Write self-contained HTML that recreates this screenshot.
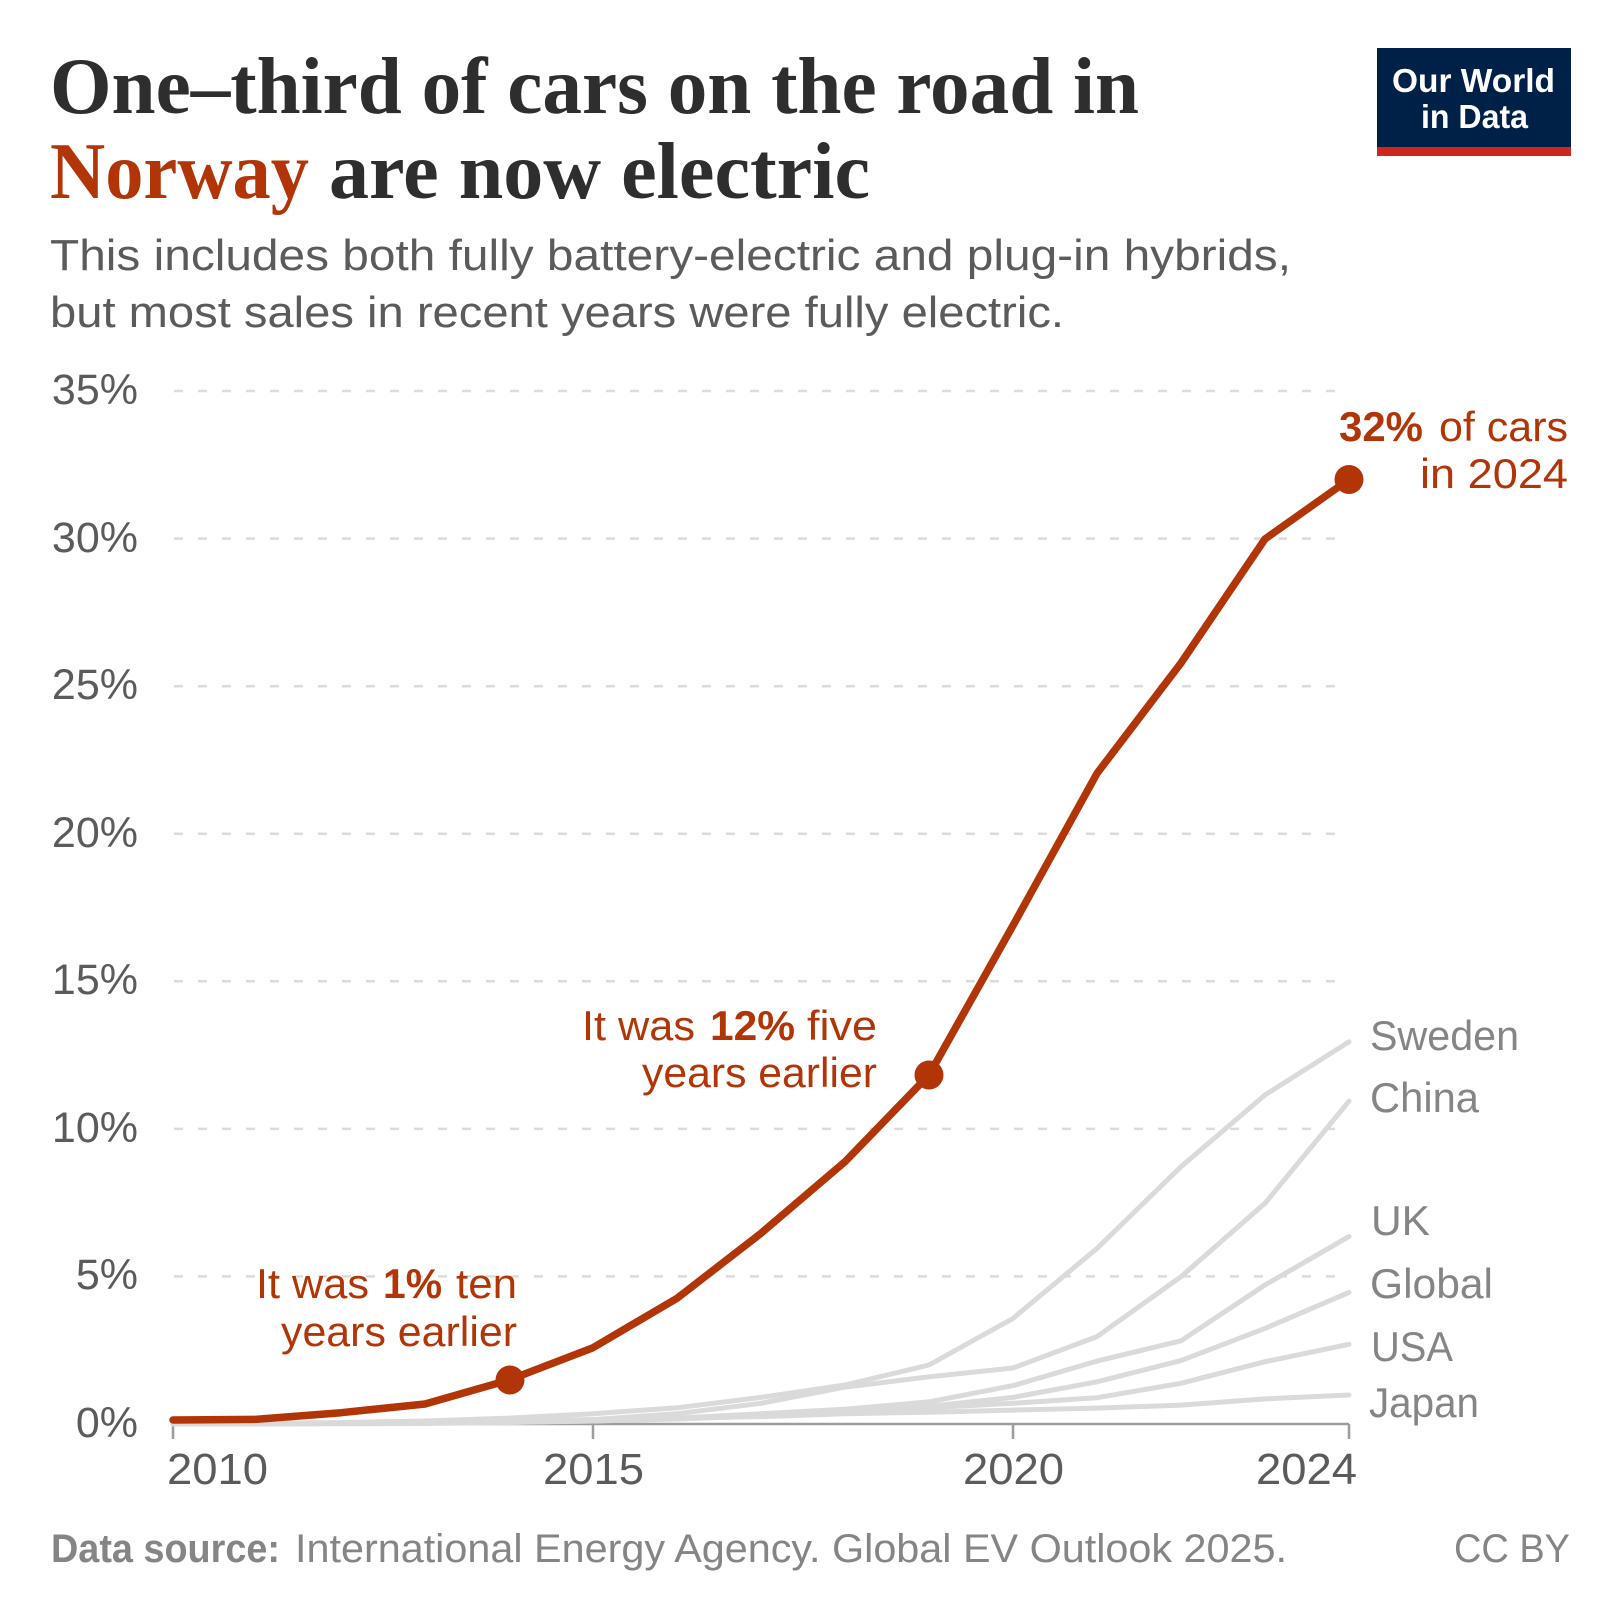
<!DOCTYPE html>
<html>
<head>
<meta charset="utf-8">
<style>
  html,body{margin:0;padding:0;background:#fff;}
  svg{display:block;}
</style>
</head>
<body>
<svg width="1620" height="1620" viewBox="0 0 1620 1620" xmlns="http://www.w3.org/2000/svg">
  <rect x="0" y="0" width="1620" height="1620" fill="#ffffff"/>

  <!-- Title -->
  <g font-family="'Liberation Serif', serif" font-weight="bold" font-size="80" fill="#2e2e2e">
    <text x="50" y="113" textLength="1089" lengthAdjust="spacingAndGlyphs">One–third of cars on the road in</text>
    <text x="50" y="198" textLength="259" lengthAdjust="spacingAndGlyphs" fill="#b13507">Norway</text>
    <text x="329" y="198" textLength="541" lengthAdjust="spacingAndGlyphs">are now electric</text>
  </g>

  <!-- Subtitle -->
  <g font-family="'Liberation Sans', sans-serif" font-size="44" fill="#5b5b5b">
    <text x="50" y="270" textLength="1241" lengthAdjust="spacingAndGlyphs">This includes both fully battery-electric and plug-in hybrids,</text>
    <text x="50" y="327" textLength="1014" lengthAdjust="spacingAndGlyphs">but most sales in recent years were fully electric.</text>
  </g>

  <!-- Logo -->
  <rect x="1377" y="48" width="194" height="100" fill="#002147"/>
  <rect x="1377" y="147" width="194" height="9" fill="#ce261e"/>
  <g font-family="'Liberation Sans', sans-serif" font-weight="bold" font-size="33" fill="#ffffff">
    <text x="1392" y="92" textLength="163" lengthAdjust="spacingAndGlyphs">Our World</text>
    <text x="1421" y="128" textLength="107" lengthAdjust="spacingAndGlyphs">in Data</text>
  </g>

  <!-- Gridlines -->
  <g stroke="#dcdcdc" stroke-width="2.5" stroke-dasharray="9,15">
    <line x1="174" y1="1276.4" x2="1349" y2="1276.4"/>
    <line x1="174" y1="1128.9" x2="1349" y2="1128.9"/>
    <line x1="174" y1="981.3" x2="1349" y2="981.3"/>
    <line x1="174" y1="833.7" x2="1349" y2="833.7"/>
    <line x1="174" y1="686.2" x2="1349" y2="686.2"/>
    <line x1="174" y1="538.6" x2="1349" y2="538.6"/>
    <line x1="174" y1="391" x2="1349" y2="391"/>
  </g>

  <!-- Y labels -->
  <g font-family="'Liberation Sans', sans-serif" font-size="43" fill="#5b5b5b" text-anchor="end">
    <text x="138" y="404">35%</text>
    <text x="138" y="552">30%</text>
    <text x="138" y="699">25%</text>
    <text x="138" y="847">20%</text>
    <text x="138" y="994">15%</text>
    <text x="138" y="1142">10%</text>
    <text x="138" y="1289">5%</text>
    <text x="138" y="1437">0%</text>
  </g>

  <!-- Axis -->
  <g stroke="#9c9c9c" stroke-width="2.5">
    <line x1="173" y1="1424" x2="1349" y2="1424"/>
    <line x1="173" y1="1424" x2="173" y2="1439"/>
    <line x1="593" y1="1424" x2="593" y2="1439"/>
    <line x1="1013" y1="1424" x2="1013" y2="1439"/>
    <line x1="1349" y1="1424" x2="1349" y2="1439"/>
  </g>

  <!-- X labels -->
  <g font-family="'Liberation Sans', sans-serif" font-size="44" fill="#5b5b5b">
    <text x="167" y="1484" textLength="101" lengthAdjust="spacingAndGlyphs">2010</text>
    <text x="543" y="1484" textLength="101" lengthAdjust="spacingAndGlyphs">2015</text>
    <text x="963" y="1484" textLength="101" lengthAdjust="spacingAndGlyphs">2020</text>
    <text x="1256" y="1484" textLength="101" lengthAdjust="spacingAndGlyphs">2024</text>
  </g>

  <!-- Gray series -->
  <g fill="none" stroke="#dadada" stroke-width="5" stroke-linejoin="round" stroke-linecap="round">
    <!-- Japan -->
    <polyline points="173,1424 257,1423.5 341,1423 425,1422 509,1421 593,1419.6 677,1418.1 761,1416.6 845,1413.7 929,1412.2 1013,1410.1 1097,1408.1 1181,1405.1 1265,1398.9 1349,1395"/>
    <!-- USA -->
    <polyline points="173,1424 257,1423.5 341,1423 425,1422 509,1421 593,1419.6 677,1418.1 761,1415.1 845,1410.7 929,1407.8 1013,1403.3 1097,1397.7 1181,1383.3 1265,1361.7 1349,1344.3"/>
    <!-- Global -->
    <polyline points="173,1424 257,1423.7 341,1423.4 425,1423 509,1422 593,1421 677,1419 761,1416 845,1412.2 929,1406.3 1013,1397.4 1097,1381.8 1181,1360.6 1265,1328.4 1349,1292.4"/>
    <!-- UK -->
    <polyline points="173,1424 257,1423.8 341,1423.5 425,1423 509,1422.5 593,1421 677,1418.1 761,1413.7 845,1409.2 929,1401.9 1013,1385.6 1097,1361.1 1181,1340.8 1265,1285 1349,1236.6"/>
    <!-- China -->
    <polyline points="173,1424 257,1424 341,1423.8 425,1423.5 509,1422.5 593,1419.6 677,1413.7 761,1403.3 845,1387.1 929,1376.8 1013,1368 1097,1336.6 1181,1276.7 1265,1203.3 1349,1101.2"/>
    <!-- Sweden -->
    <polyline points="173,1424 257,1423.4 341,1422.5 425,1421 509,1418.1 593,1413.7 677,1407.8 761,1397.4 845,1385 929,1365 1013,1318.4 1097,1248.4 1181,1166.7 1265,1095 1349,1041.8"/>
  </g>

  <!-- Gray labels -->
  <g font-family="'Liberation Sans', sans-serif" font-size="42" fill="#858585">
    <text x="1370" y="1050" textLength="149" lengthAdjust="spacingAndGlyphs">Sweden</text>
    <text x="1370" y="1112" textLength="109" lengthAdjust="spacingAndGlyphs">China</text>
    <text x="1371" y="1235" textLength="59" lengthAdjust="spacingAndGlyphs">UK</text>
    <text x="1370" y="1298" textLength="123" lengthAdjust="spacingAndGlyphs">Global</text>
    <text x="1371" y="1361" textLength="82" lengthAdjust="spacingAndGlyphs">USA</text>
    <text x="1369" y="1417" textLength="110" lengthAdjust="spacingAndGlyphs">Japan</text>
  </g>

  <!-- Norway series -->
  <polyline fill="none" stroke="#b13507" stroke-width="7.5" stroke-linejoin="round" stroke-linecap="round"
    points="173,1420 257,1419.3 341,1412.7 425,1404 509,1380 593,1347.7 677,1298.3 761,1233.3 845,1161.7 929,1075 1013,925.5 1097,773.4 1181,663 1265,539 1349,479.5"/>
  <circle cx="510" cy="1380" r="14.5" fill="#b13507"/>
  <circle cx="929" cy="1075" r="14.5" fill="#b13507"/>
  <circle cx="1349" cy="479.5" r="14.5" fill="#b13507"/>

  <!-- Norway annotations -->
  <g font-family="'Liberation Sans', sans-serif" font-size="42" fill="#b13507">
    <text x="1339" y="441" font-weight="bold" textLength="84" lengthAdjust="spacingAndGlyphs">32%</text>
    <text x="1439" y="441" textLength="129" lengthAdjust="spacingAndGlyphs">of cars</text>
    <text x="1420" y="488" textLength="148" lengthAdjust="spacingAndGlyphs">in 2024</text>

    <text x="582" y="1040" textLength="113" lengthAdjust="spacingAndGlyphs">It was</text>
    <text x="710" y="1040" font-weight="bold" textLength="85" lengthAdjust="spacingAndGlyphs">12%</text>
    <text x="807" y="1040" textLength="70" lengthAdjust="spacingAndGlyphs">five</text>
    <text x="642" y="1087" textLength="235" lengthAdjust="spacingAndGlyphs">years earlier</text>

    <text x="256" y="1298" textLength="113" lengthAdjust="spacingAndGlyphs">It was</text>
    <text x="383" y="1298" font-weight="bold" textLength="59" lengthAdjust="spacingAndGlyphs">1%</text>
    <text x="456" y="1298" textLength="61" lengthAdjust="spacingAndGlyphs">ten</text>
    <text x="281" y="1346" textLength="236" lengthAdjust="spacingAndGlyphs">years earlier</text>
  </g>

  <!-- Footer -->
  <g font-family="'Liberation Sans', sans-serif" font-size="40" fill="#858585">
    <text x="51" y="1562" font-weight="bold" textLength="229" lengthAdjust="spacingAndGlyphs">Data source:</text>
    <text x="295" y="1562" textLength="992" lengthAdjust="spacingAndGlyphs">International Energy Agency. Global EV Outlook 2025.</text>
    <text x="1454" y="1562" textLength="116" lengthAdjust="spacingAndGlyphs">CC BY</text>
  </g>
</svg>
</body>
</html>
